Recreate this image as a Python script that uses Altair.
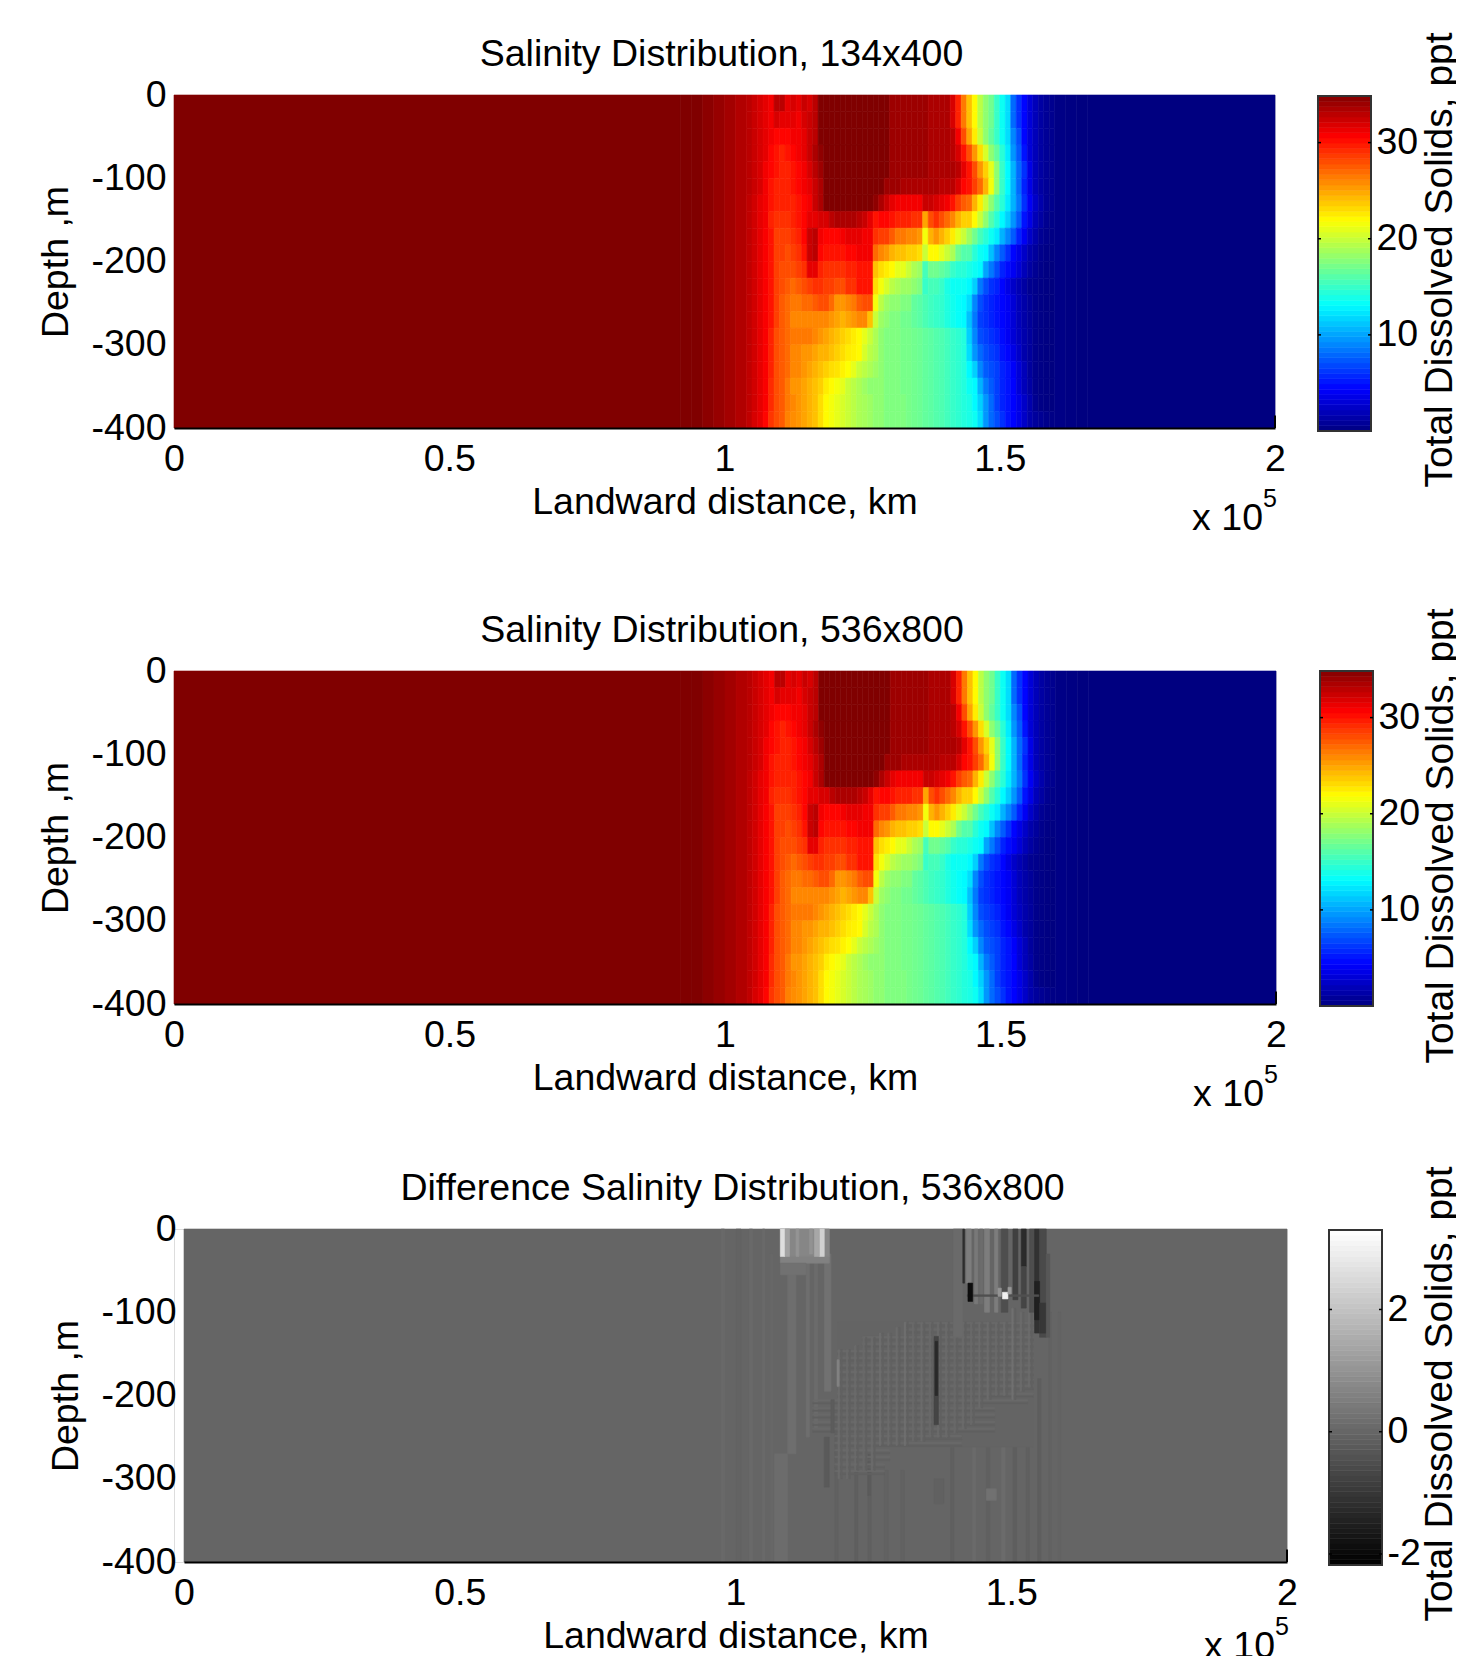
import altair as alt
import pandas as pd

FONT = "Liberation Sans"
FS = 37.5
X_TICKS = [0, 50000, 100000, 150000, 200000]
Y_TICKS = [-400, -300, -200, -100, 0]
CB_TICKS = [10, 20, 30]
CB_GRAY_TICKS = [-2, 0, 2]

# salinity, ppt
SAL_LEFT = 35                                    # 0 .. 92 000 m
SAL_NEAR_LEFT = [35, 35, 34.6, 34.2, 33.8, 33.3] # 92 000 .. 104 000 m, 2000 m wide
SAL_NEAR_RIGHT = [.2, .1, 0]                     # 160 000 .. 166 000 m, 2000 m wide
SAL_RIGHT = 0                                    # 166 000 .. 200 000 m
ROW_STEP = 20
BAND_START = 104000
BAND_STEP = 1000
SAL_BAND = [
    [33,32.5,32,31.5,31,33,33,31.5, 32,31.5,32.5,32,33,35,35,35, 35,35,35,35,35,35,35,35, 35,35,34,34,34,34,34,34, 34,33.5,33.5,33.5,33.5,32,29.5,26.5, 24,22,19.5,18,17,15,13.5,12, 8,6,4.5,3,2,1.2,.8,.5],
    [33,32.5,32,31.5,31,32,31.5,31.5, 31.5,31,32,32.5,33,35,35,35, 35,35,35,35,35,35,35,35, 35,35,34,34,34,34,34,34, 34,33.5,33.5,33.5,33.5,32,29.5,26.5, 24,22,19.5,18,17,15,13.5,12, 8,6,4.5,3,2,1.2,.8,.5],
    [33,32.5,32,31.5,31,30.5,30.5,30.5, 31,31,31.5,32.5,33,35,35,35, 35,35,35,35,35,35,35,35, 35,35,34,34,34,34,34,34, 34,33.5,33.5,33.5,33.5,33,31,28, 25,22.5,20,18,16.5,15,13.5,12, 9,7,4.5,3,2,1.2,.8,.5],
    [33,32.5,32,31.5,30.5,30,29.5,30, 30.5,31,31.5,32.5,33.5,34.5,35,35, 35,35,35,35,35,35,35,35, 35,35,34,34,34,34,34,34, 34,33.5,33.5,33.5,33.5,33,32,30, 28,25.5,23,20.5,18,16.5,14.5,12.5, 9.5,7.5,5,3,2,1.2,.8,.5],
    [33,32.5,32,31,30.5,30,29.5,29.5, 30,30.5,31,32,33,34,35,35, 35,35,35,35,35,35,35,35, 35,35,34,34,34,34,34,34, 34,33.5,33.5,33.5,33.5,33.5,33,31.5, 30,28,25.5,23.5,21,18,15,13, 10.5,8,6,3.5,2,1.2,.8,.5],
    [33,32.5,32,31,30,29.5,29.5,29.5, 30,30.5,31,31.5,32.5,33.5,35,35, 35,35,35,35,35,35,35,35, 35,34,34,34,33.5,33.5,33.5,33.5, 33.5,33.5,33.5,33,33,33,32,30.5, 30,28.5,27,24.5,21.5,18,15,13, 10.5,8,5.5,3.5,2,1.2,.8,.5],
    [32.8,32.2,31.5,31,30,29.5,29.5,29.5, 29.5,30,30.5,31,32.5,33.5,35,35, 35,35,35,35,35,35,35,34.5, 33.5,32.5,31.5,31,31,31,31,31, 32.5,32.5,32,31.5,31,30,28.5,27.5, 27,24.5,22.5,20,18,16,14.5,12.5, 10.5,8.5,6,4,2.5,1.5,.8,.5],
    [32.8,32.2,31.5,31,29.5,29,29,29, 29.5,30,30.5,31.5,31.5,32,32,33, 33.5,33.5,33.5,33.5,33,32.5,31.5,30, 30.5,30.5,30,29.5,29.5,29.5,29,29, 25,28,29,28,27,26,24.5,23.5, 23.5,22,20,18,16,14.5,13,11.5, 9.5,7.5,5,3.5,2,1.2,.6,.3],
    [32.8,32.2,31.5,30.8,30,28.5,28.5,28.5, 29,29.5,30.5,32.5,33,31,30.5,30.5, 30.5,31,31.5,31.5,31.5,31,31,29, 28.5,28.5,27.5,26.5,26.5,26,26,25.5, 21.5,24.5,25.5,24.5,23.5,22.5,21,20, 18.5,17,15.5,14.5,13.5,12.5,10.5,9, 7.5,5.5,4,2.5,1.5,.7,.4,.2],
    [32.8,32.2,31.5,30.8,30,28.5,28.5,28, 28.5,29,30,32.5,33,30.5,30,30, 30,30,30.5,30.5,31,31,31,27, 26,25.5,24.5,24,24,23.5,23.5,23, 20,22,22,21,20,19,17,16, 16,14.5,13.5,13,11,9,7.5,6, 4.5,3.5,2.5,1.5,1,.4,.2,.1],
    [32.8,32.2,31.5,30.8,30,28.5,28,28, 28,28.5,29,31.5,31.5,29.5,29,29, 29,29,29.5,29.5,30,30,30,24, 23,22.5,22,21,21,20,19,18.5, 15.5,17,17,16.5,16,15,14.5,14.5, 14,13.5,13,10,8.5,7,5.5,4.7, 4,3,2,1.2,.7,.3,.1,0],
    [32.8,32.2,31.5,30.8,30,28.5,28,27.5, 27,27.5,28,28.5,29,29,28.5,28.5, 28,28,29,29,30,30,30,23, 21.5,20.5,19.5,19,18.5,18.5,18,17.5, 15,15.5,15.5,15,14,13.5,13.5,13.5, 13,11.5,8.5,7,6,5.5,4.5,3.5, 2.5,1.8,1.2,.6,.4,.2,.1,0],
    [32.8,32.2,31.5,30.8,30,28.5,27.5,27, 26.5,26.5,27,27,27.5,28,28,27, 25.5,25.5,26,26.5,27.5,28,28,21.5, 19.5,18.5,18,18,17.5,17.5,16.5,16.2, 15.7,15.3,15,14.8,14.2,13.7,13.3,13, 12,9,7,6,5.5,5,4.5,4, 3,2,1.4,.9,.4,.2,.1,0],
    [32.8,32.2,31.5,30.8,30,28.5,27.5,27, 26,26,26,26,26,26,26,25.5, 25,24.5,25,25.5,26,26,24,20, 18.5,18,17.5,17.5,17,17,16.5,16.2, 15.7,15.3,15,14.8,14.2,13.7,13.3,13, 11,8.5,6.5,6,5.5,5,4.5,4, 3,2,1.4,.9,.4,.2,.1,0],
    [32.8,32.2,31.5,30.8,29.5,28,27.5,27, 26.5,26.5,26.5,26.5,26,25.5,25,24.5, 24,23.5,23,22.5,22,21,20,19, 18,17.5,17.5,17.5,17.2,17.2,17,16.8, 16.5,16.3,16,15.8,15.4,15,14.7,14.3, 11.5,9,7,6.5,6,5.5,4.7,4, 3,2.2,1.5,1,.4,.2,.1,0],
    [32.8,32.2,31.5,30.8,29.5,28,27.5,27, 26,26,25.5,25.5,25,24.5,24.5,24, 23.5,23,22.5,22.3,22,20.5,19.5,19, 18,17.5,17.5,17.5,17.2,17.2,17,16.8, 16.5,16.3,16,15.8,15.4,15,14.7,14.3, 12,9.5,8,7,6.5,6,5,4.5, 3.5,2.5,1.5,1,.4,.2,.1,0],
    [32.8,32.2,31.5,30.8,29.5,28,27.5,27, 26,26,25.5,25,24.5,24,23.5,23, 22.8,22.3,21.8,21,20,19.5,19,18.5, 18,17.5,17.5,17.5,17.2,17.2,17,16.8, 16.5,16.3,16,15.8,15.4,15,14.7,14.3, 13,11.5,9,7.5,7,6.5,5.5,5, 4.2,3,2,1,.4,.2,.1,0],
    [32.8,32.2,31.5,30.8,29.2,28,27.5,26.5, 25.5,25.5,25,24.5,24,23.5,22.5,22, 21.5,21,20,19.5,19,18.5,18,18, 18,17.5,17.5,17.5,17.2,17.2,17,16.8, 16.5,16.3,16,15.8,15.4,15,14.7,14.3, 13.5,13,10.5,8.5,7.5,6.5,5.5,5, 4.4,3,2,1.2,.4,.2,.1,0],
    [32.8,32.2,31.5,30.8,29.2,28,27.5,26.5, 26,25.5,25,24.5,24,23,22,21.5, 21,20.5,20,19.5,19,18.8,18.5,18, 18,17.5,17.5,17.5,17.5,17.2,17,16.8, 16.5,16.3,16,15.8,15.4,15,14.7,14.3, 14,13,11.5,9.5,8,6.5,5.5,5, 4.4,3.5,2.5,1.5,.6,.2,.1,0],
    [32.8,32,31.5,30.5,28.8,28,27.5,26.2, 25.8,25.5,25,24.5,24,23,22,21.5, 21,20.5,20,19.5,19,18.8,18.5,18, 18,17.5,17.5,17.5,17.5,17.2,17,16.8, 16.5,16.3,16,15.8,15.4,15,14.7,14.3, 14,13.5,12,9.5,8,7,6,5, 4.4,3.5,2.5,1.5,1,.7,.4,.2],
]

# difference panel: (x from, x to, depth from, depth to, value)
DIFF_BASE = [(0, 200000, 0, 400, 0)]
DIFF_STRIPES = [
    (97400, 98000, 0, 400, .07), (100100, 101000, 0, 400, -.05), (102500, 103100, 0, 400, .08),
    (104900, 105300, 0, 400, .08), (106300, 106700, 30, 400, .06), (107040, 109460, 270, 400, .15),
    (109460, 110970, 50, 270, .18), (112790, 113390, 40, 250, .18), (114300, 114900, 40, 240, .12),
    (116100, 117330, 30, 195, .25), (118000, 118600, 220, 400, -.1), (116100, 117000, 250, 310, -.25),
    (121600, 122200, 250, 400, -.14), (124000, 124600, 280, 400, -.12), (124000, 124500, 270, 320, -.22),
    (127000, 127700, 290, 400, -.08), (130000, 130600, 290, 400, -.08), (136000, 137800, 300, 330, -.1),
    (139000, 139600, 250, 400, -.12), (143000, 143600, 240, 400, .1), (145500, 146100, 240, 400, -.12),
    (148200, 148900, 230, 400, .12), (150300, 151000, 200, 400, -.16), (152700, 153300, 200, 400, -.12),
    (154800, 155400, 180, 400, -.15), (156800, 157300, 100, 400, -.08), (158500, 159000, 100, 400, -.05),
    (145500, 147300, 312, 326, .25),
]
DIFF_TOP_PATCH = [
    (108130, 117020, 33, 41, .6), (108130, 112800, 41, 55, .25),
    (108130, 117020, 0, 33, .7), (108130, 108980, 0, 33, 2.6),
    (115200, 116100, 0, 33, 2.3), (114300, 115200, 0, 33, 1.4), (109000, 109800, 0, 33, 1.3),
    (110970, 111500, 0, 33, 1.0), (113400, 114000, 0, 30, .95),
]
DIFF_RIGHT = [
    (139500, 141220, 0, 130, .1), (141220, 141530, 0, 65, -1.2), (141830, 142740, 0, 65, .5),
    (143340, 143950, 0, 90, .4), (144250, 144850, 0, 90, .15), (145160, 146060, 0, 100, .5),
    (146970, 147580, 0, 100, .5), (148180, 149390, 0, 100, -.5), (150300, 151210, 0, 85, -.8),
    (151810, 152720, 0, 45, -1.25), (151810, 152720, 45, 95, -.7), (153320, 154230, 0, 100, -.5),
    (154230, 155140, 0, 125, -1.1), (155140, 156350, 0, 130, -.6), (154230, 155140, 63, 109, -1.5),
    (155140, 156350, 89, 125, -1.0), (156350, 157000, 30, 130, -.3),
    (142000, 155000, 79, 81, -.45), (142150, 143000, 65, 87, -1.9), (147600, 148200, 71, 81, 1),
    (148400, 149400, 76, 84, 3), (149400, 150000, 70, 78, 1.1),
]
DIFF_HATCH_H = [
    (131000, 154000, 112), (131000, 154000, 120), (123000, 154000, 129), (123000, 154000, 137),
    (118500, 154000, 146), (118500, 154000, 154), (118500, 154000, 163), (118500, 154000, 171),
    (118500, 154000, 180), (118500, 154000, 188), (118500, 154000, 197), (114000, 153000, 205),
    (114000, 147000, 214), (114000, 147000, 222), (114000, 147000, 231), (114000, 147000, 239),
    (118000, 141000, 248), (118000, 141000, 256), (118000, 128000, 265), (118000, 128000, 273),
    (118000, 127000, 282), (118000, 127000, 290),
]
DIFF_HATCH_V = [
    (118600, 145, 300, .14), (120100, 145, 300, .1), (121600, 140, 290, .12), (123100, 130, 290, .09),
    (124600, 130, 290, .14), (126100, 125, 260, .2), (127600, 125, 260, .12), (129100, 118, 260, .11),
    (130600, 112, 260, .24), (132100, 112, 255, .1), (133600, 112, 255, .12), (135100, 112, 250, .1),
    (136600, 112, 250, .11), (138100, 112, 250, .12), (139600, 112, 245, .1), (141100, 112, 240, .11),
    (142600, 112, 235, .1), (144100, 112, 215, .11), (145600, 112, 205, .11), (147100, 112, 200, .1),
    (148600, 112, 200, .14), (150100, 95, 205, .22), (151600, 100, 195, .11), (153100, 100, 190, .11),
]
DIFF_STREAKS = [
    (136000, 136800, 129, 235, -.7), (136200, 136650, 135, 200, -1.3),
    (118400, 118800, 157, 189, .6), (117300, 117900, 205, 245, -.2),
]

CB_LEVELS = list(range(64))
JET = ["#000080", "#0000ff", "#0080ff", "#00ffff", "#80ff80", "#ffff00", "#ff8000", "#ff0000", "#800000"]
GRAY = ["#000000", "#ffffff"]

# ---------- tables ----------
cells = [dict(x1=0, x2=92000, d1=0, d2=-400, v=SAL_LEFT)]
for i, v in enumerate(SAL_NEAR_LEFT):
    cells.append(dict(x1=92000 + i * 2000, x2=94000 + i * 2000, d1=0, d2=-400, v=v))
for r, row in enumerate(SAL_BAND):
    for c, v in enumerate(row):
        cells.append(dict(x1=BAND_START + c * BAND_STEP, x2=BAND_START + (c + 1) * BAND_STEP,
                          d1=-r * ROW_STEP, d2=-(r + 1) * ROW_STEP, v=v))
for i, v in enumerate(SAL_NEAR_RIGHT):
    cells.append(dict(x1=160000 + i * 2000, x2=162000 + i * 2000, d1=0, d2=-400, v=v))
cells.append(dict(x1=166000, x2=200000, d1=0, d2=-400, v=SAL_RIGHT))
sal_df = pd.DataFrame(cells)

diff_rows = []
def add(x1, x2, a, b, v):
    diff_rows.append(dict(x1=x1, x2=x2, d1=-a, d2=-b, v=v))
for p in DIFF_BASE + DIFF_STRIPES + DIFF_TOP_PATCH:
    add(*p)
add(118500, 154000, 112, 262, -.04)
for x1, x2, d in DIFF_HATCH_H:
    add(x1, x2, d, d + 1.6, .1)
    add(x1, x2, d + 3.5, d + 5.2, -.09)
for x, a, b, v in DIFF_HATCH_V:
    add(x, x + 240, a, b, v)
    add(x + 500, x + 740, a, b, -.08)
for p in DIFF_RIGHT + DIFF_STREAKS:
    add(*p)
diff_df = pd.DataFrame(diff_rows)


def cb_table(lo, hi):
    step = (hi - lo) / 64
    return pd.DataFrame([dict(a=lo + i * step, b=lo + (i + 1) * step, v=lo + (i + .5) * step) for i in CB_LEVELS])


blank = pd.DataFrame({"k": [0]})


def panel(df, title, x0, cmin, cmax, cb_lo, cb_hi, cb_ticks, cb_colors, cb_x, cb_range, w, title_x, h=333, exp_dy=0):
    color = alt.Scale(domain=[cmin, cmax], range=cb_colors, interpolate="rgb")
    xs = alt.Scale(domain=[0, 200000], range=[x0, w], nice=False, zero=False)
    ys = alt.Scale(domain=[-400, 0], nice=False, zero=False)
    heat = alt.Chart(df).mark_rect(strokeWidth=0.6).encode(
        x=alt.X("x1:Q", scale=xs,
                axis=alt.Axis(values=X_TICKS, labelExpr="datum.value/100000", title="Landward distance, km",
                              domainColor="black", domainWidth=2, ticks=False, grid=False, labelFont=FONT,
                              labelFontSize=FS, titleFont=FONT, titleFontSize=FS, titleFontWeight="normal",
                              labelColor="black", titleColor="black", labelPadding=12, titlePadding=6,
                              labelFlush=False, labelOverlap=False, zindex=1)),
        x2="x2:Q",
        y=alt.Y("d1:Q", scale=ys,
                axis=alt.Axis(values=Y_TICKS, labelExpr="'' + datum.value", title="Depth ,m", domain=False, ticks=False, grid=False,
                              labelFont=FONT, labelFontSize=FS, titleFont=FONT, titleFontSize=FS,
                              titleFontWeight="normal", labelColor="black", titleColor="black", offset=-x0,
                              labelPadding=8, titlePadding=15, labelFlush=False, labelOverlap=False)),
        y2="d2:Q",
        color=alt.Color("v:Q", scale=color, legend=None),
        stroke=alt.Stroke("v:Q", scale=color, legend=None),
    )
    end_tick = alt.Chart(pd.DataFrame({"x": [200000], "a": [-400], "b": [-385]})).mark_rule(color="black", strokeWidth=2).encode(
        x=alt.X("x:Q", scale=xs, axis=None),
        y=alt.Y("a:Q", scale=ys, axis=None),
        y2="b:Q",
    )
    cb_scale = alt.Scale(domain=[cb_lo, cb_hi], range=cb_range, nice=False, zero=False)
    bar = alt.Chart(cb_table(cb_lo, cb_hi)).mark_rect(strokeWidth=0.6).encode(
        x=alt.value(cb_x), x2=alt.value(cb_x + 53),
        y=alt.Y("a:Q", scale=cb_scale,
                axis=alt.Axis(orient="right", values=cb_ticks, labelExpr="'' + datum.value", offset=cb_x + 53 - w,
                              title="Total Dissolved Solids, ppt",
                              domain=False, ticks=False, grid=False, labelFont=FONT, labelFontSize=FS,
                              titleFont=FONT, titleFontSize=39, titleFontWeight="normal", labelColor="black",
                              titleColor="black", labelPadding=5, titleAngle=270, titleBaseline="bottom",
                              titleX=title_x, titleY=h / 2 - 2,
                              labelFlush=False, labelOverlap=False)),
        y2="b:Q",
        color=alt.Color("v:Q", scale=color, legend=None),
        stroke=alt.Stroke("v:Q", scale=color, legend=None),
    )
    tick_df = pd.DataFrame({"t": cb_ticks})
    t1 = alt.Chart(tick_df).mark_rule(color="black", strokeWidth=1.5).encode(
        x=alt.value(cb_x), x2=alt.value(cb_x + 3), y=alt.Y("t:Q", scale=cb_scale, axis=None))
    t2 = alt.Chart(tick_df).mark_rule(color="black", strokeWidth=1.5).encode(
        x=alt.value(cb_x + 50), x2=alt.value(cb_x + 53), y=alt.Y("t:Q", scale=cb_scale, axis=None))
    frame = alt.Chart(blank).mark_rect(fill=None, stroke="#333333", strokeWidth=2).encode(
        x=alt.value(cb_x), x2=alt.value(cb_x + 53), y=alt.value(cb_range[1]), y2=alt.value(cb_range[0]))
    e1 = alt.Chart(blank).mark_text(text="x 10", font=FONT, fontSize=FS, align="right", baseline="alphabetic", color="black").encode(
        x=alt.value(w - 12), y=alt.value(h + 102 + exp_dy))
    e2 = alt.Chart(blank).mark_text(text="5", font=FONT, fontSize=25, align="left", baseline="alphabetic", color="black").encode(
        x=alt.value(w - 12), y=alt.value(h + 79 + exp_dy))
    return alt.layer(heat, end_tick, bar, frame, t1, t2, e1, e2).resolve_scale(x="independent", y="independent", color="independent", stroke="independent").properties(
        width=w, height=h,
        title=alt.TitleParams(title, font=FONT, fontSize=FS, fontWeight="normal", color="black", anchor="middle", offset=-42, dx=x0 / 2 - 3),
    )


p1 = panel(sal_df, "Salinity Distribution, 134x400", 0, 0, 35, 0, 34.85, CB_TICKS, JET, 1144, [336, 1], 1101, 88)
p2 = panel(sal_df, "Salinity Distribution, 536x800", 0, 0, 35, 0, 34.85, CB_TICKS, JET, 1146, [335, 0], 1102, 87)
p3 = panel(diff_df, "Difference Salinity Distribution, 536x800", 10, -2.18, 3.3, -2.18, 3.3, CB_GRAY_TICKS, GRAY, 1155, [336, 1], 1113, 77, exp_dy=-6)

chart = alt.vconcat(alt.vconcat(p1, p2, spacing=69), p3, spacing=51).properties(padding={"left": 29, "top": 23, "right": -5, "bottom": -10}).configure_view(stroke=None).configure(background="white")
chart.save("out.html", embed_options={"renderer": "svg", "actions": False})
